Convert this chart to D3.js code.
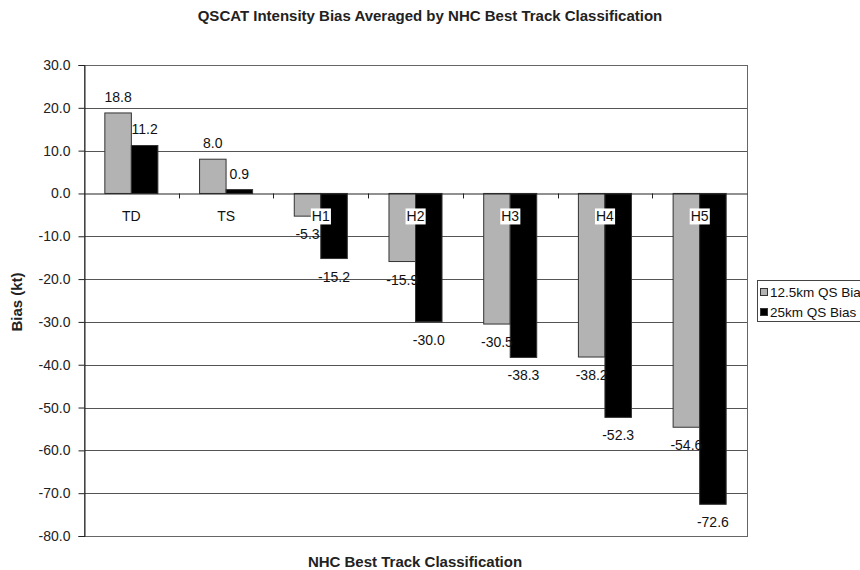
<!DOCTYPE html>
<html>
<head>
<meta charset="utf-8">
<script src="https://cdn.jsdelivr.net/npm/d3@7"></script>
<style>
  body { margin: 0; background: #fff; }
  svg { display: block; font-family: "Liberation Sans", Arial, sans-serif; }
</style>
</head>
<body>
<svg id="chart" width="860" height="570"></svg>
<script>
const categories = ["TD", "TS", "H1", "H2", "H3", "H4", "H5"];
const seriesNames = ["12.5km QS Bias", "25km QS Bias"];
const bias125 = [18.8, 8.0, -5.3, -15.9, -30.5, -38.2, -54.6];
const bias25 = [11.2, 0.9, -15.2, -30.0, -38.3, -52.3, -72.6];
const yTicks = [30, 20, 10, 0, -10, -20, -30, -40, -50, -60, -70, -80];
const colors = ["#b3b3b3", "#000000"];

const seriesValues = [bias125, bias25];
const fmt = v => d3.format(".1f")(v).replace("\u2212", "-");
const svg = d3.select("#chart");
const L = 84, R = 747, T = 65, B = 536;

const y = d3.scaleLinear().domain([-80, 30]).range([B, T]);
const x0 = d3.scaleBand().domain(categories).range([L, R]).padding(0);
const bw = x0.bandwidth();
const x1 = d3.scaleBand().domain(seriesNames).range([bw * 0.22, bw * 0.78]).padding(0);

// gridlines
svg.append("g").selectAll("line").data(yTicks.filter(d => d !== 0)).join("line")
  .attr("x1", L).attr("x2", R)
  .attr("y1", d => Math.round(y(d)) + 0.5).attr("y2", d => Math.round(y(d)) + 0.5)
  .attr("stroke", "#555").attr("stroke-width", 1);

// plot border
svg.append("rect").attr("x", L + 0.5).attr("y", Math.round(T) + 0.5)
  .attr("width", R - L).attr("height", Math.round(B) - Math.round(T))
  .attr("fill", "none").attr("stroke", "#666").attr("stroke-width", 1);

// y axis
const yAxis = d3.axisLeft(y).tickValues(yTicks).tickSize(6).tickPadding(8).tickFormat(fmt);
const yg = svg.append("g").attr("transform", `translate(${L + 0.5},0)`).call(yAxis);
yg.select(".domain").attr("stroke", "#222");
yg.selectAll(".tick line").attr("stroke", "#222");
yg.selectAll(".tick text").attr("font-size", 14).attr("fill", "#222")
  .attr("font-family", "Liberation Sans, Arial, sans-serif");

// bars
const rows = categories.map((c, i) => ({ cat: c, vals: seriesNames.map((s, j) => ({ s, j, v: seriesValues[j][i] })) }));
const groups = svg.append("g").selectAll("g").data(rows).join("g")
  .attr("transform", d => `translate(${x0(d.cat)},0)`);
groups.selectAll("rect").data(d => d.vals).join("rect")
  .attr("x", d => x1(d.s))
  .attr("y", d => Math.min(y(d.v), y(0)))
  .attr("width", x1.bandwidth())
  .attr("height", d => Math.abs(y(d.v) - y(0)))
  .attr("fill", d => colors[d.j])
  .attr("stroke", "#333").attr("stroke-width", 1);

// category axis at zero
const xAxis = d3.axisBottom(x0).tickSize(0).tickFormat("");
const xg = svg.append("g").attr("transform", `translate(0,${Math.round(y(0)) + 0.5})`).call(xAxis);
xg.select(".domain").attr("stroke", "#222");
svg.append("g").selectAll("line").data(categories.slice(1)).join("line")
  .attr("x1", d => Math.round(x0(d)) + 0.5).attr("x2", d => Math.round(x0(d)) + 0.5)
  .attr("y1", y(0)).attr("y2", y(0) + 5).attr("stroke", "#222");

// category labels
const catG = svg.append("g").selectAll("g").data(categories).join("g")
  .attr("transform", d => `translate(${x0(d) + bw / 2},${y(0) + 28})`);
catG.each(function(d, i) {
  const g = d3.select(this);
  const t = g.append("text").text(d).attr("text-anchor", "middle")
    .attr("font-size", 14).attr("fill", "#111");
  if (bias125[i] < 0) {
    const bb = t.node().getBBox();
    g.insert("rect", "text").attr("x", bb.x - 1).attr("y", bb.y)
      .attr("width", bb.width + 2).attr("height", bb.height).attr("fill", "#fff");
  }
});

// value labels
groups.selectAll("text.val").data(d => d.vals).join("text").attr("class", "val")
  .attr("x", d => x1(d.s) + x1.bandwidth() / 2)
  .attr("y", d => d.v >= 0 ? y(d.v) - 11 : y(d.v) + 23)
  .attr("text-anchor", "middle").attr("font-size", 14).attr("fill", "#111")
  .text(d => fmt(d.v));

// title
svg.append("text").attr("x", 430).attr("y", 21).attr("text-anchor", "middle")
  .attr("font-size", 15).attr("font-weight", "bold").attr("fill", "#222")
  .text("QSCAT Intensity Bias Averaged by NHC Best Track Classification");

// axis titles
svg.append("text").attr("transform", "translate(22,302) rotate(-90)")
  .attr("text-anchor", "middle").attr("font-size", 15).attr("font-weight", "bold").attr("fill", "#222")
  .text("Bias (kt)");
svg.append("text").attr("x", 415).attr("y", 567).attr("text-anchor", "middle")
  .attr("font-size", 15).attr("font-weight", "bold").attr("fill", "#222")
  .text("NHC Best Track Classification");

// legend
const lg = svg.append("g").attr("transform", "translate(757,280)");
lg.append("rect").attr("x", 0.5).attr("y", 0.5).attr("width", 140).attr("height", 41)
  .attr("fill", "#fff").attr("stroke", "#444");
seriesNames.forEach((s, j) => {
  lg.append("rect").attr("x", 3.5).attr("y", 8.5 + j * 20).attr("width", 7).attr("height", 7)
    .attr("fill", colors[j]).attr("stroke", "#333");
  lg.append("text").attr("x", 13).attr("y", 17 + j * 20).attr("font-size", 13.5).attr("fill", "#111").text(s);
});
</script>
</body>
</html>
